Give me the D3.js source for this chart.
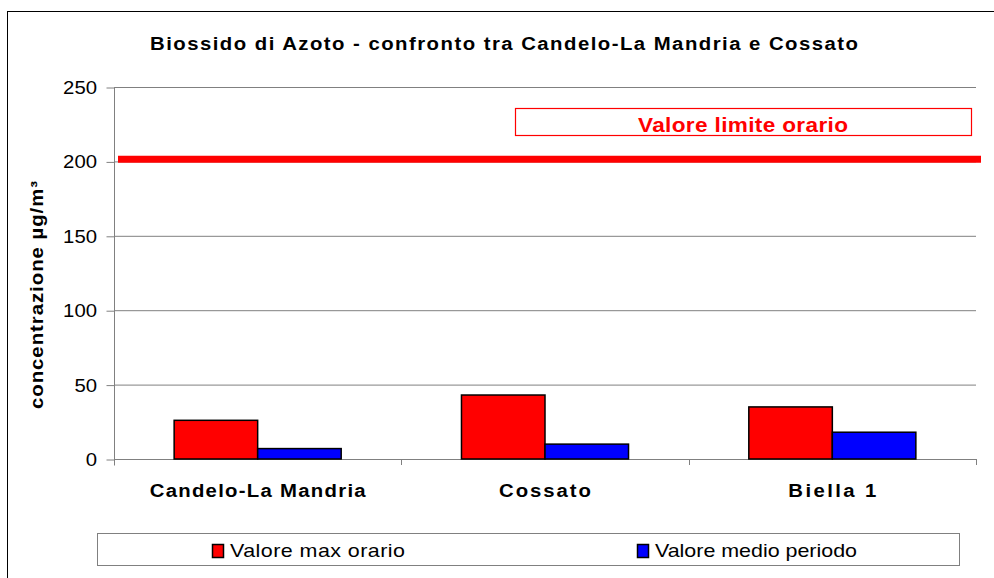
<!DOCTYPE html>
<html><head><meta charset="utf-8">
<script src="https://cdn.jsdelivr.net/npm/d3@7"></script>
<style>body{margin:0;background:#fff}svg{display:block;font-family:"Liberation Sans",Arial,sans-serif}</style>
</head><body>
<svg id="c" width="994" height="578"></svg>
<script>
const categories = ["Candelo-La Mandria", "Cossato", "Biella 1"];
const seriesNames = ["Valore max orario", "Valore medio periodo"];
const maxOrario = [26, 43, 35];
const medioPeriodo = [7, 10, 18];
const yTicks = [0, 50, 100, 150, 200, 250];
const limitValue = 201.5;
const limitLabel = "Valore limite orario";
const title = "Biossido di Azoto - confronto tra Candelo-La Mandria e Cossato";
const yLabel = "concentrazione µg/m³";
const colors = ["#ff0000", "#0000ff"];

const svg = d3.select("#c");
const L = 114, R = 976, T = 87, B = 459;
const SX = 1.13;

// text stretched horizontally then fitted to a target width
function label(parent, x, y, str, len, opts, rot) {
  const g = parent.append("g").attr("transform", `translate(${x},${y})` + (rot ? ` rotate(${rot})` : "") + ` scale(${SX},1)`);
  const t = g.append("text").attr("text-anchor", opts.anchor || "middle")
    .attr("font-size", opts.size).attr("font-weight", opts.weight || "normal")
    .attr("fill", opts.fill || "#000").text(str);
  if (len) t.attr("textLength", len / SX).attr("lengthAdjust", "spacing");
  return t;
}

svg.append("rect").attr("x", 7.5).attr("y", 11.5).attr("width", 1000).attr("height", 600)
  .attr("fill", "#fff").attr("stroke", "#000").attr("stroke-width", 1);

const x = d3.scaleBand().domain(categories).range([L, R]);
const y = d3.scaleLinear().domain([0, 250]).range([B, T]);

svg.append("g").selectAll("line").data(yTicks.filter(d => d > 0)).join("line")
  .attr("x1", L).attr("x2", R).attr("y1", d => y(d) + 0.5).attr("y2", d => y(d) + 0.5)
  .attr("stroke", "#808080").attr("stroke-width", 1);

const ya = svg.append("g").attr("transform", `translate(${L + 0.5},0.5)`)
  .call(d3.axisLeft(y).tickValues(yTicks).tickSize(8).tickPadding(10));
ya.select(".domain").attr("stroke", "#808080").attr("d", `M0,${T}V${B + 6}`);
ya.selectAll(".tick line").attr("stroke", "#808080");
ya.selectAll(".tick text").remove();
yTicks.forEach(v => label(svg, 97, y(v) + 7, String(v), null, {size: 18, anchor: "end"}));

const xa = svg.append("g").attr("transform", `translate(0,${B + 0.5})`)
  .call(d3.axisBottom(x).tickSize(0).tickPadding(0));
xa.select(".domain").attr("stroke", "#808080").attr("d", `M${L},0H${R}`);
xa.selectAll(".tick").remove();
svg.append("g").selectAll("line").data(categories).join("line")
  .attr("x1", d => Math.round(x(d) + x.bandwidth()) + 0.5).attr("x2", d => Math.round(x(d) + x.bandwidth()) + 0.5)
  .attr("y1", B).attr("y2", B + 6).attr("stroke", "#808080");
const catLen = [216, 92, 88];
categories.forEach((c, i) => label(svg, x(c) + x.bandwidth() / 2, B + 38, c, catLen[i], {size: 18, weight: "bold"}));

const inner = d3.scaleBand().domain([0, 1]).range([0, x.bandwidth()]).paddingInner(0).paddingOuter(0.72);
const rows = categories.map((c, i) => [maxOrario[i], medioPeriodo[i]]);
const g = svg.append("g");
categories.forEach((c, i) => {
  g.selectAll(null).data(rows[i]).join("rect")
    .attr("x", (d, j) => x(c) + inner(j)).attr("width", inner.bandwidth())
    .attr("y", d => y(d)).attr("height", d => B - y(d))
    .attr("fill", (d, j) => colors[j]).attr("stroke", "#000").attr("stroke-width", 1.5);
});

svg.append("line").attr("x1", L + 4).attr("x2", R + 5).attr("y1", y(limitValue)).attr("y2", y(limitValue))
  .attr("stroke", "#ff0000").attr("stroke-width", 7);
svg.append("rect").attr("x", 515.5).attr("y", 108.5).attr("width", 456).attr("height", 27)
  .attr("fill", "#fff").attr("stroke", "#ff0000").attr("stroke-width", 1.2);
label(svg, 743, 132, limitLabel, 210, {size: 20, weight: "bold", fill: "#ff0000"});

label(svg, 504, 50, title, 708, {size: 18, weight: "bold"});

label(svg, 43, 295, yLabel, 228, {size: 18, weight: "bold"}, -90);

svg.append("rect").attr("x", 97.5).attr("y", 533.5).attr("width", 862).attr("height", 32)
  .attr("fill", "#fff").attr("stroke", "#808080").attr("stroke-width", 1);
const legX = [212, 637];
const legLen = [175, 202];
seriesNames.forEach((n, i) => {
  svg.append("rect").attr("x", legX[i] + 0.5).attr("y", 544.5).attr("width", 11).attr("height", 13)
    .attr("fill", colors[i]).attr("stroke", "#000").attr("stroke-width", 1.5);
  label(svg, legX[i] + 18, 557, n, legLen[i], {size: 19, anchor: "start"});
});
</script>
</body></html>
